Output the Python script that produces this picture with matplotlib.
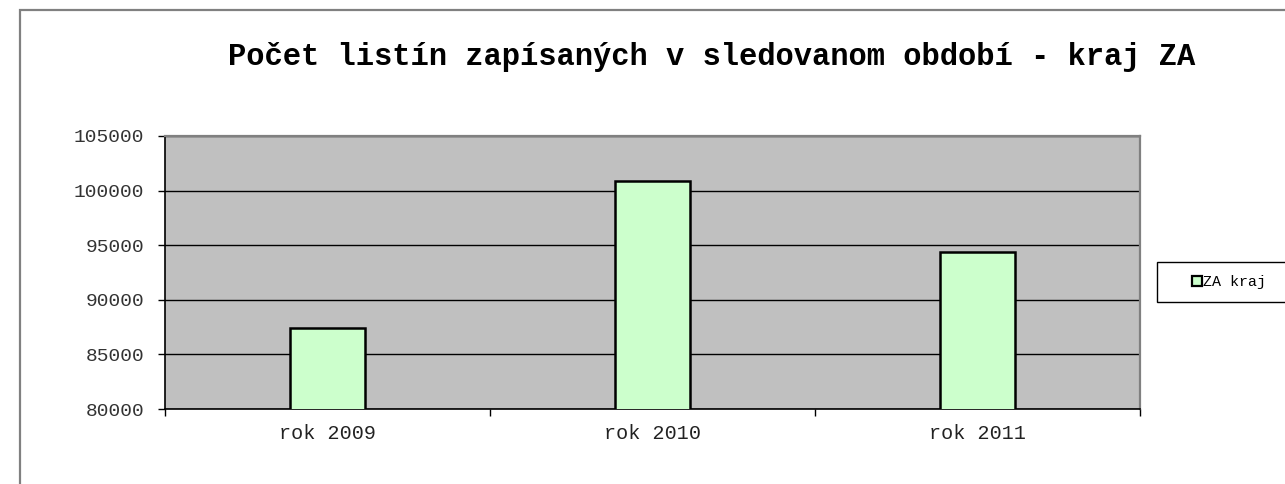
import matplotlib.pyplot as plt
from matplotlib.patches import Rectangle
from matplotlib.lines import Line2D

years = ['rok 2009', 'rok 2010', 'rok 2011']
values = [87400, 100900, 94400]
series_name = 'ZA kraj'
title = 'Počet listín zapísaných v sledovanom období - kraj ZA'

plt.rcParams['font.family'] = ['Liberation Mono', 'DejaVu Sans Mono']

fig = plt.figure(figsize=(12.85, 4.84), dpi=100)
W, H = 1285, 484

# ---- outer frame of the chart object
fig.patches.append(Rectangle((20 / W, -0.05), 1.1, 1 - 10 / H + 0.05,
                             transform=fig.transFigure, fill=False,
                             edgecolor='#808080', linewidth=1.6))

ax = fig.add_axes([165 / W, 75 / H, 975 / W, 273 / H])
ax.set_facecolor('#c0c0c0')

x = range(len(years))
ax.bar(x, values, width=0.23, bottom=0, color='#ccffcc', edgecolor='black',
       linewidth=1.8, zorder=3)

ax.set_xlim(-0.5, 2.5)
ax.set_ylim(80000, 105000)
ax.set_yticks([80000, 85000, 90000, 95000, 100000, 105000])
ax.yaxis.grid(True, color='black', linewidth=1.0, zorder=1)
ax.set_axisbelow(True)

ax.set_xticks(list(x))
ax.set_xticklabels(years)
ax.set_xticks([-0.5, 0.5, 1.5, 2.5], minor=True)
ax.tick_params(axis='x', which='major', length=0, pad=11, labelsize=14.5,
               labelcolor='#222222')
ax.tick_params(axis='x', which='minor', length=5, width=1, direction='out')
ax.tick_params(axis='y', length=5, width=1, direction='out', labelsize=14,
               labelcolor='#333333', pad=10)

for s in ['left', 'bottom']:
    ax.spines[s].set_color('black')
    ax.spines[s].set_linewidth(1.2)
for s in ['top', 'right']:
    ax.spines[s].set_color('#808080')
    ax.spines[s].set_linewidth(1.6)

fig.text(712 / W, 1 - 57 / H, title, ha='center', va='center',
         fontsize=22, fontweight='bold')

# ---- legend box
fig.patches.append(Rectangle((1157 / W, 1 - 302 / H), 0.2, 40 / H,
                             transform=fig.transFigure, facecolor='white',
                             edgecolor='black', linewidth=1.0))
handle = Line2D([], [], marker='s', linestyle='none', markersize=6.5,
                markerfacecolor='#ccffcc', markeredgecolor='black',
                markeredgewidth=1.6)
fig.legend([handle], [series_name], loc='center left',
           bbox_to_anchor=(1192 / W, 1 - 282 / H), frameon=False,
           fontsize=10.8, handlelength=0.7, handletextpad=0.05,
           borderpad=0, borderaxespad=0)

fig.savefig('out.png', dpi=100)
